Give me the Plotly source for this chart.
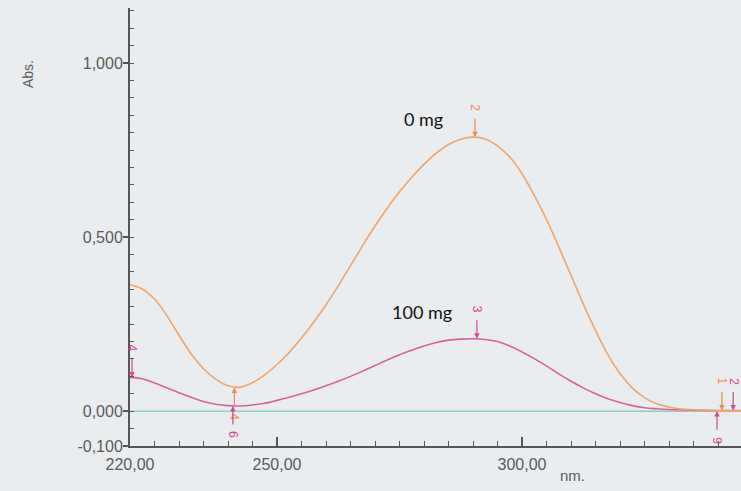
import plotly.graph_objects as go

# Absorbance spectra (wavelength in nm)
wl_0mg = [220.0, 222.5, 225.0, 227.5, 230.0, 232.5, 235.0, 237.5, 240.0, 242.5,
          245.0, 247.5, 250.0, 252.5, 255.0, 257.5, 260.0, 262.5, 265.0, 267.5,
          270.0, 272.5, 275.0, 277.5, 280.0, 282.5, 285.0, 287.5, 290.0, 292.5,
          295.0, 297.5, 300.0, 302.5, 305.0, 307.5, 310.0, 312.5, 315.0, 317.5,
          320.0, 322.5, 325.0, 327.5, 330.0, 332.5, 335.0, 337.5, 340.0, 345.0]
abs_0mg = [0.363, 0.351, 0.322, 0.275, 0.218, 0.164, 0.122, 0.092, 0.073, 0.069,
           0.082, 0.104, 0.134, 0.169, 0.210, 0.256, 0.305, 0.360, 0.418, 0.476,
           0.532, 0.583, 0.630, 0.672, 0.709, 0.741, 0.766, 0.781, 0.787, 0.782,
           0.762, 0.730, 0.682, 0.620, 0.551, 0.472, 0.390, 0.308, 0.232, 0.163,
           0.108, 0.067, 0.039, 0.021, 0.012, 0.006, 0.004, 0.002, 0.001, 0.001]

wl_100mg = [220.0, 222.5, 225.0, 227.5, 230.0, 232.5, 235.0, 237.5, 240.0, 242.5,
            245.0, 247.5, 250.0, 252.5, 255.0, 257.5, 260.0, 262.5, 265.0, 267.5,
            270.0, 272.5, 275.0, 277.5, 280.0, 282.5, 285.0, 287.5, 290.0, 292.5,
            295.0, 297.5, 300.0, 302.5, 305.0, 307.5, 310.0, 312.5, 315.0, 317.5,
            320.0, 322.5, 325.0, 327.5, 330.0, 335.0, 340.0, 345.0]
abs_100mg = [0.097, 0.093, 0.081, 0.067, 0.053, 0.040, 0.028, 0.020, 0.016, 0.015,
             0.018, 0.023, 0.031, 0.040, 0.050, 0.061, 0.073, 0.086, 0.100, 0.115,
             0.131, 0.147, 0.162, 0.175, 0.187, 0.197, 0.204, 0.207, 0.208, 0.206,
             0.200, 0.187, 0.170, 0.151, 0.130, 0.107, 0.086, 0.067, 0.050, 0.036,
             0.025, 0.016, 0.010, 0.007, 0.005, 0.003, 0.002, 0.002]

wl_base = [220.0, 345.0]
abs_base = [0.0, 0.0]

# Peak / valley picks: (label, wavelength, absorbance, arrow direction)
picks_0mg = [("2", 290.4, 0.787, "down"), ("4", 241.3, 0.068, "up"), ("1", 340.8, 0.002, "down")]
picks_100mg = [("3", 290.8, 0.208, "down"), ("4", 220.4, 0.097, "down"),
               ("6", 241.0, 0.015, "up"), ("2", 343.1, 0.002, "down"), ("9", 339.8, 0.0, "up")]

y_ticks = [1.0, 0.5, 0.0, -0.1]
y_tick_text = ["1,000", "0,500", "0,000", "-0,100"]
x_ticks = [220, 250, 300]
x_tick_text = ["220,00", "250,00", "300,00"]

ORANGE = "#f2a466"
PINK = "#d9609f"
GREEN = "#8fd0bd"
AXIS = "#555555"
TEXT = "#5a5a5a"
BG = "#e9edf0"
SANS = "Arial, Liberation Sans, sans-serif"

fig = go.Figure()
fig.add_trace(go.Scatter(x=wl_base, y=abs_base, mode="lines",
                         line=dict(color=GREEN, width=1.5), hoverinfo="skip"))
fig.add_trace(go.Scatter(x=wl_100mg, y=abs_100mg, mode="lines", line_shape="spline",
                         line=dict(color=PINK, width=1.6)))
fig.add_trace(go.Scatter(x=wl_0mg, y=abs_0mg, mode="lines", line_shape="spline",
                         line=dict(color=ORANGE, width=1.6)))

annotations = []


def add_picks(picks, color):
    for label, wx, wy, direction in picks:
        sign = -1 if direction == "down" else 1
        # arrow pointing at the curve
        annotations.append(dict(x=wx, y=wy, xref="x", yref="y", text="", showarrow=True,
                                ax=0, ay=sign * 20, arrowhead=2, arrowsize=0.9,
                                arrowwidth=1.2, arrowcolor=color))
        # rotated pick number beyond the arrow tail
        annotations.append(dict(x=wx, y=wy, xref="x", yref="y", text=label, showarrow=False,
                                textangle=90, yshift=-sign * 29,
                                xanchor="center", yanchor="middle",
                                font=dict(family=SANS, size=12, color=color)))


add_picks(picks_0mg, "#ee8a4a")
add_picks(picks_100mg, "#d8458e")

# free text, positioned in pixels and converted to paper coordinates below
labels = [
    dict(x=423, y=119, text="0 mg", font=dict(family="Lato", size=18, color="#111111")),
    dict(x=422, y=312, text="100 mg", font=dict(family="Lato", size=18, color="#111111")),
    dict(x=572, y=475, text="nm.", font=dict(family=SANS, size=15, color=TEXT)),
    dict(x=28, y=74, text="Abs.", textangle=-90, font=dict(family=SANS, size=14, color=TEXT)),
]

W, H = 741, 491
ML, MR, MT, MB = 130, 0, 8, 45
for a in labels:
    a["x"] = (a["x"] - ML) / (W - ML - MR)
    a["y"] = 1 - (a["y"] - MT) / (H - MT - MB)
    a.update(xref="paper", yref="paper", xanchor="center", yanchor="middle", showarrow=False)
    annotations.append(a)

fig.update_layout(
    width=W, height=H,
    margin=dict(l=ML, r=MR, t=MT, b=MB),
    paper_bgcolor=BG, plot_bgcolor=BG,
    showlegend=False,
    annotations=annotations,
    xaxis=dict(range=[220, 220 + (W - ML - MR) / 4.9], showgrid=False, zeroline=False,
               showline=True, linecolor=AXIS, linewidth=2,
               tickmode="array", tickvals=x_ticks, ticktext=x_tick_text,
               ticks="inside", ticklen=9, tickwidth=1.5, tickcolor=AXIS,
               ticklabelstandoff=3,
               tickfont=dict(family=SANS, size=16, color=TEXT),
               minor=dict(ticks="inside", ticklen=5, tickwidth=1.3, tickcolor=AXIS,
                          tick0=220, dtick=5, showgrid=False)),
    yaxis=dict(range=[-0.1, 1.158], showgrid=False, zeroline=False,
               showline=True, linecolor=AXIS, linewidth=2,
               tickmode="array", tickvals=y_ticks, ticktext=y_tick_text,
               ticks="outside", ticklen=5, tickwidth=1.5, tickcolor=AXIS,
               ticklabelstandoff=-3,
               tickfont=dict(family=SANS, size=16, color=TEXT),
               minor=dict(ticks="inside", ticklen=4, tickwidth=1.3, tickcolor=AXIS,
                          tick0=0, dtick=0.05, showgrid=False)),
)

fig.write_html("out.html")
